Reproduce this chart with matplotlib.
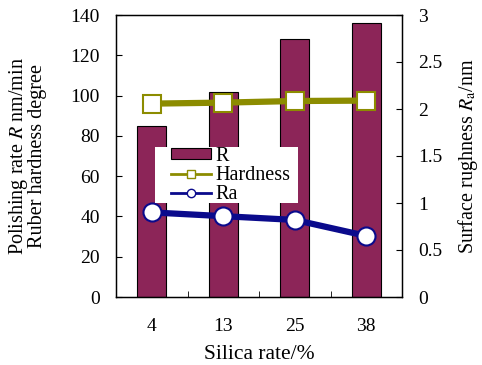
import numpy as np
import matplotlib
matplotlib.use("Agg")
import matplotlib.pyplot as plt
from matplotlib.ticker import MultipleLocator, FuncFormatter
from matplotlib.patches import Rectangle

plt.rcParams['font.family'] = ['Liberation Serif', 'DejaVu Serif']
plt.rcParams['mathtext.fontset'] = 'stix'

silica = ['4', '13', '25', '38']
rate = [85, 102, 128, 136]
hardness = [96, 96.5, 97.3, 97.5]
ra = [0.90, 0.86, 0.82, 0.65]

bar_col = '#8c2558'
hard_col = '#8c8c00'
ra_col = '#0a0a8c'

fig = plt.figure(figsize=(4.82, 3.65), dpi=100)
ax = fig.add_axes([116/482, 1-297/365, 286/482, 282/365])
x = np.arange(len(silica))

b = ax.bar(x, rate, width=0.4, color=bar_col, edgecolor='black', linewidth=0.8, zorder=2)
ax.set_xlim(-0.5, 3.5)
ax.set_ylim(0, 140)
ax.yaxis.set_major_locator(MultipleLocator(20))
ax.set_xticks(x)
ax.set_xticklabels(silica)
ax.set_xticks([0.5, 1.5, 2.5], minor=True)
ax.tick_params(axis='x', which='major', length=0, pad=15, labelsize=14)
ax.tick_params(axis='x', which='minor', direction='in', length=4)
ax.tick_params(axis='y', direction='in', length=4, labelsize=14, pad=11.5)
ax.set_xlabel('Silica rate/%', fontsize=15.5, labelpad=7)
ax.set_ylabel('Polishing rate $R$ nm/min\nRuber hardness degree', fontsize=14.5,
              linespacing=0.85, labelpad=17)

ax2 = ax.twinx()
ax2.plot(x, ra, color=ra_col, lw=4.5, marker='o', ms=13, mfc='white',
         mec=ra_col, mew=1.5, zorder=3)
ax2.plot(x, [v * 3 / 140 for v in hardness], color=hard_col, lw=4.5, marker='s', ms=13,
         mfc='white', mec=hard_col, mew=1.5, zorder=3)
ax2.set_ylim(0, 3)
ax2.yaxis.set_major_locator(MultipleLocator(0.5))
ax2.yaxis.set_major_formatter(FuncFormatter(lambda v, p: '%g' % v))
ax2.tick_params(axis='y', direction='in', length=4, labelsize=14, pad=11.5)
ax2.set_ylabel('Surface rughness $R_{\\rm a}$/nm', fontsize=14.5, labelpad=10)

# white legend area covering the bars
ax2.add_patch(Rectangle((0.136, 0.333), 0.5, 0.199, transform=ax2.transAxes,
                        facecolor='white', edgecolor='none', zorder=4))
hl = [
    Rectangle((0, 0), 1, 1, facecolor=bar_col, edgecolor='black', linewidth=0.8),
    plt.Line2D([], [], color=hard_col, lw=2, marker='s', ms=6, mfc='white', mec=hard_col),
    plt.Line2D([], [], color=ra_col, lw=2, marker='o', ms=6, mfc='white', mec=ra_col),
]
leg = ax2.legend(hl, ['R', 'Hardness', 'Ra'], loc='upper left', bbox_to_anchor=(0.192, 0.533),
                 frameon=False, fontsize=14.5, handlelength=2.0, handleheight=0.4,
                 handletextpad=0.2, labelspacing=0.0, borderpad=0, borderaxespad=0)
leg.set_zorder(5)
for s in ax.spines.values():
    s.set_linewidth(1.0)

fig.savefig('out.png', dpi=100)
